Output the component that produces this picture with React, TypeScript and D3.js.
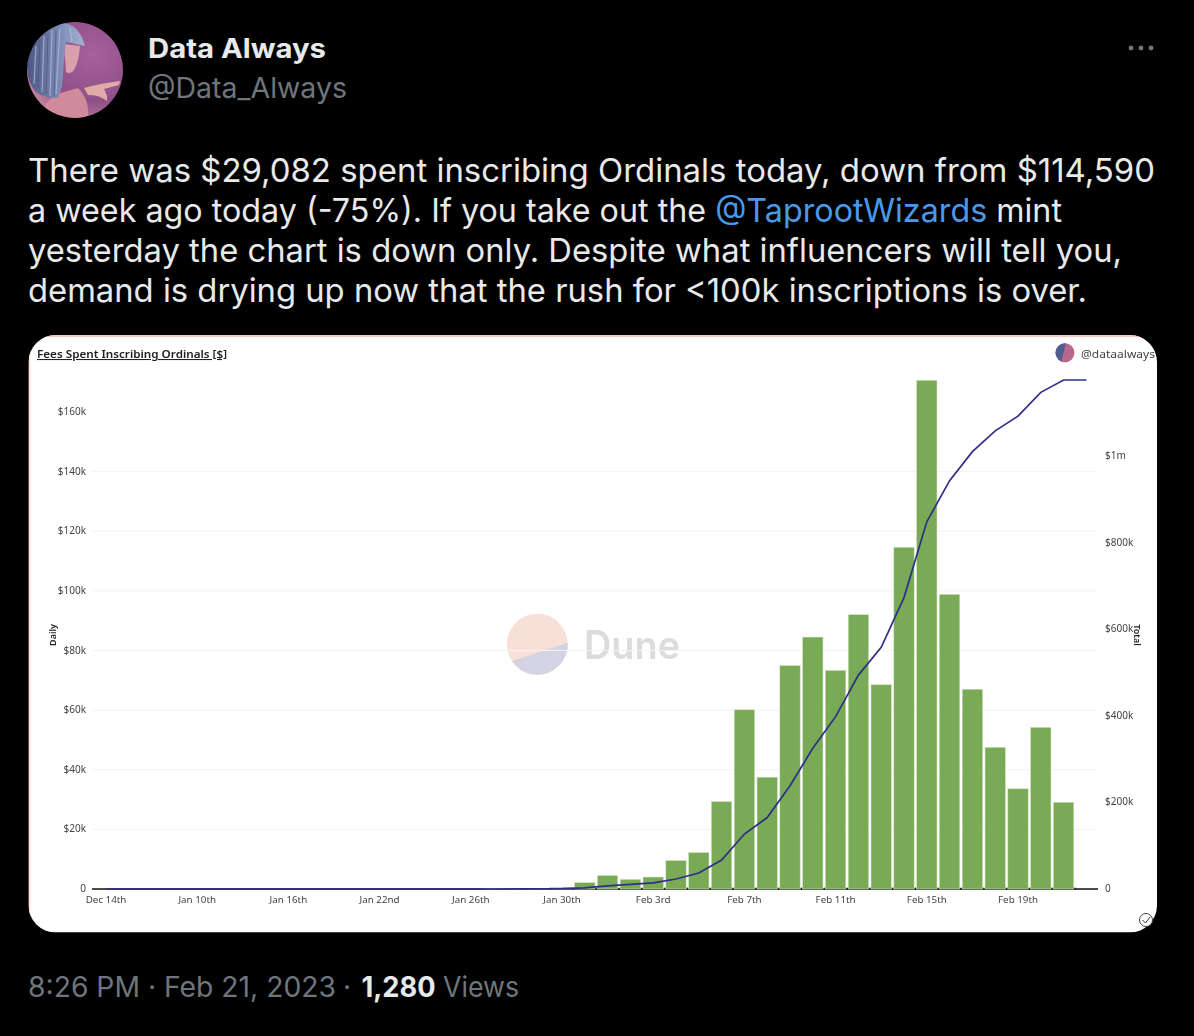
import React, { useEffect, useRef } from "react";
import * as d3 from "d3";

// x categories as shown by the chart (only every 4th one is labelled)
const categories = [
  "Dec 14th", "Dec 15th", "Dec 16th", "Dec 17th",
  "Jan 10th", "Jan 11th", "Jan 13th", "Jan 15th",
  "Jan 16th", "Jan 18th", "Jan 19th", "Jan 21st",
  "Jan 22nd", "Jan 23rd", "Jan 24th", "Jan 25th",
  "Jan 26th", "Jan 27th", "Jan 28th", "Jan 29th",
  "Jan 30th", "Jan 31st", "Feb 1st", "Feb 2nd",
  "Feb 3rd", "Feb 4th", "Feb 5th", "Feb 6th",
  "Feb 7th", "Feb 8th", "Feb 9th", "Feb 10th",
  "Feb 11th", "Feb 12th", "Feb 13th", "Feb 14th",
  "Feb 15th", "Feb 16th", "Feb 17th", "Feb 18th",
  "Feb 19th", "Feb 20th", "Feb 21st", "Feb 22nd",
];

// daily fees, $
const daily = [
  0, 0, 0, 0, 0, 0, 0, 0, 0, 0, 0, 0, 0, 0, 0, 0, 0, 20, 60, 120,
  500, 2100, 4500, 3200, 4000, 9500, 12200, 29300, 60100, 37500, 74900, 84500,
  73300, 92000, 68500, 114590, 170600, 98800, 67000, 47500, 33600, 54200, 29082, 0,
];

// running total, $
const total = [
  0, 0, 0, 0, 0, 0, 0, 0, 0, 0, 0, 0, 0, 0, 0, 0, 0, 20, 80, 200,
  700, 2800, 7300, 10500, 14000, 23000, 37000, 67000, 127000, 165000, 238600, 325000,
  398000, 494000, 558000, 673000, 848000, 943000, 1010000, 1058000, 1092000, 1147000, 1175500, 1175500,
];

const leftTicks = [0, 20000, 40000, 60000, 80000, 100000, 120000, 140000, 160000];
const rightTicks = [0, 200000, 400000, 600000, 800000, 1000000];

const chartFont = "'Noto Sans', sans-serif";
const tweetFont = "Inter, 'Noto Sans', sans-serif";

const kLabel = (d: number) => (d === 0 ? "0" : `$${d / 1000}k`);
const mLabel = (d: number) =>
  d === 0 ? "0" : d >= 1000000 ? `$${d / 1000000}m` : `$${d / 1000}k`;

export default function App() {
  const chartRef = useRef<SVGGElement>(null);

  useEffect(() => {
    const g = d3.select(chartRef.current);
    g.selectAll("*").remove();

    const x = d3.scaleBand<string>().domain(categories).range([94.6, 1097.8]).paddingInner(0.11).paddingOuter(0.055);
    const yLeft = d3.scaleLinear().domain([0, 160000]).range([889, 412]);
    const yRight = d3.scaleLinear().domain([0, 1000000]).range([889, 456]);
    const center = (i: number) => (x(categories[i]) ?? 0) + x.bandwidth() / 2;

    // grid
    g.append("g")
      .selectAll("line")
      .data(leftTicks.filter((d) => d > 0 && d < 160000))
      .join("line")
      .attr("x1", 92)
      .attr("x2", 1098)
      .attr("y1", (d) => yLeft(d))
      .attr("y2", (d) => yLeft(d))
      .attr("stroke", "#f3f3f3")
      .attr("stroke-width", 1);

    // left axis
    const leftAxis = g
      .append("g")
      .attr("transform", "translate(92,0)")
      .call(d3.axisLeft(yLeft).tickValues(leftTicks).tickFormat((d) => kLabel(+d)).tickSize(0).tickPadding(6));
    leftAxis.select(".domain").remove();
    leftAxis.selectAll("text").attr("font-family", chartFont).attr("font-size", 10).attr("fill", "#444").attr("dy", "0.25em");

    // right axis
    const rightAxis = g
      .append("g")
      .attr("transform", "translate(1098,0)")
      .call(d3.axisRight(yRight).tickValues(rightTicks).tickFormat((d) => mLabel(+d)).tickSize(0).tickPadding(7));
    rightAxis.select(".domain").remove();
    rightAxis.selectAll("text").attr("font-family", chartFont).attr("font-size", 10).attr("fill", "#444").attr("dy", "0.25em");

    // bottom axis, labels on every 4th category
    const bottomAxis = g
      .append("g")
      .attr("transform", "translate(0,889)")
      .call(d3.axisBottom(x).tickValues(categories.filter((_, i) => i % 4 === 0 && i < 43)).tickSize(0).tickPadding(6));
    bottomAxis.select(".domain").remove();
    bottomAxis.selectAll("text").attr("font-family", chartFont).attr("font-size", 9.8).attr("fill", "#444").attr("dy", "0.85em");

    // baseline and small band ticks
    g.append("line").attr("x1", 92).attr("x2", 1098).attr("y1", 889).attr("y2", 889).attr("stroke", "#111").attr("stroke-width", 1.7);
    g.append("g")
      .selectAll("line")
      .data(categories.slice(20))
      .join("line")
      .attr("x1", (d) => (x(d) ?? 0) - 1.2)
      .attr("x2", (d) => (x(d) ?? 0) - 1.2)
      .attr("y1", 887.5)
      .attr("y2", 890)
      .attr("stroke", "#222");

    // bars
    g.append("g")
      .selectAll("rect")
      .data(daily)
      .join("rect")
      .attr("x", (_, i) => x(categories[i]) ?? 0)
      .attr("width", x.bandwidth())
      .attr("y", (d) => yLeft(d))
      .attr("height", (d) => yLeft(0) - yLeft(d))
      .attr("fill", "#79aa56")
      .attr("stroke", "#c9dfba")
      .attr("stroke-width", 0.5);

    // running total line
    const line = d3
      .line<number>()
      .x((_, i) => center(i))
      .y((d) => yRight(d));
    g.append("path")
      .datum(total)
      .attr("d", line)
      .attr("fill", "none")
      .attr("stroke", "#2f2f86")
      .attr("stroke-width", 1.7);

    // axis names
    g.append("text")
      .attr("transform", "translate(56,635) rotate(-90)")
      .attr("text-anchor", "middle")
      .attr("font-family", chartFont)
      .attr("font-size", 9)
      .attr("font-weight", 600)
      .attr("fill", "#222")
      .text("Daily");
    g.append("text")
      .attr("transform", "translate(1134,635) rotate(90)")
      .attr("text-anchor", "middle")
      .attr("font-family", chartFont)
      .attr("font-size", 9)
      .attr("font-weight", 600)
      .attr("fill", "#222")
      .text("Total");
  }, []);

  return (
    <svg width={1194} height={1036} style={{ position: "absolute", left: 0, top: 0, background: "#000" }}>
      <defs>
        <clipPath id="avatar"><circle cx={75} cy={70} r={48} /></clipPath>
        <clipPath id="card"><rect x={28.5} y={335} width={1128.5} height={597.5} rx={27} /></clipPath>
        <clipPath id="mini"><circle cx={1065} cy={352.7} r={9.5} /></clipPath>
        <clipPath id="dune"><circle cx={537.3} cy={644.3} r={30.5} /></clipPath>
        <radialGradient id="avatarBg" cx="0.7" cy="0.35" r="0.8">
          <stop offset="0" stopColor="#a8609a" />
          <stop offset="0.6" stopColor="#8f5088" />
          <stop offset="1" stopColor="#c98aa0" />
        </radialGradient>
        <linearGradient id="hair" x1="0" x2="1" y1="0" y2="0">
          <stop offset="0" stopColor="#4c5680" />
          <stop offset="0.6" stopColor="#7f8fb8" />
          <stop offset="1" stopColor="#a4b2d2" />
        </linearGradient>
        <filter id="soft" x="-2%" y="-2%" width="104%" height="104%">
          <feGaussianBlur stdDeviation="0.5" />
        </filter>
        <filter id="avatarSoft" x="-5%" y="-5%" width="110%" height="110%">
          <feGaussianBlur stdDeviation="0.7" />
        </filter>
      </defs>

      {/* avatar */}
      <g clipPath="url(#avatar)">
        <g filter="url(#avatarSoft)">
          <rect x={27} y={22} width={96} height={96} fill="url(#avatarBg)" />
          <path d="M40 118 Q46 96 64 92 L78 88 Q90 100 88 118 Z" fill="#cf8a9c" />
          <path d="M64 44 L80 46 Q79 60 75 68 Q72 75 66 72 Z" fill="#d8a0aa" />
          <path d="M84 88 Q98 84 120 81 L119 85 L104 89 Q108 96 107 101 Q98 94 88 95 Z" fill="#e0aba6" />
          <path d="M27 66 Q28 32 56 23 Q78 20 85 46 L66 42 L64 60 L62 86 L58 98 Q44 98 36 92 Q27 82 27 66 Z" fill="url(#hair)" />
          <path d="M36 46 L34 84 M44 36 L42 92 M52 30 L50 96 M60 28 L56 94 M70 28 L72 42" stroke="#b7c3e0" strokeWidth={1.2} fill="none" opacity={0.7} />
          <path d="M40 40 L38 88 M48 34 L46 94 M56 30 L54 96" stroke="#3f4870" strokeWidth={1} fill="none" opacity={0.5} />
        </g>
      </g>

      <text x={148} y={58} fontFamily={tweetFont} fontSize={27} fontWeight={700} fill="#e7e9ea" textLength={178} lengthAdjust="spacingAndGlyphs">Data Always</text>
      <text x={148} y={98} fontFamily={tweetFont} fontSize={28.5} fill="#6e767d" textLength={199} lengthAdjust="spacingAndGlyphs">@Data_Always</text>
      {[1131, 1141, 1151].map((cx) => (
        <circle key={cx} cx={cx} cy={48} r={2.4} fill="#6e767d" />
      ))}

      {/* tweet text */}
      <g fontFamily={tweetFont} fontSize={33} fill="#e7e9ea">
        <text x={28} y={181.7} textLength={1127} lengthAdjust="spacingAndGlyphs">There was $29,082 spent inscribing Ordinals today, down from $114,590</text>
        <text x={28} y={221.7} textLength={1034} lengthAdjust="spacingAndGlyphs">a week ago today (-75%). If you take out the <tspan fill="#4a99e9">@TaprootWizards</tspan> mint</text>
        <text x={28} y={261.7} textLength={1094} lengthAdjust="spacingAndGlyphs">yesterday the chart is down only. Despite what influencers will tell you,</text>
        <text x={28} y={301.7} textLength={1059} lengthAdjust="spacingAndGlyphs">demand is drying up now that the rush for &lt;100k inscriptions is over.</text>
      </g>

      {/* screenshot card */}
      <g clipPath="url(#card)">
        <rect x={28.5} y={335} width={1128.5} height={597.5} fill="#fff" />
        <line x1={28} x2={1158} y1={336} y2={336} stroke="#f3b9ae" strokeWidth={1.5} />
        <line x1={29.5} x2={29.5} y1={336} y2={932} stroke="#fbdcd6" strokeWidth={1.5} />
        <g filter="url(#soft)">
          {/* Dune watermark */}
          <g clipPath="url(#dune)">
            <rect x={500} y={610} width={75} height={70} fill="#f8dfd8" />
            <path d="M500 665 L575 640.5 L575 680 L500 680 Z" fill="#d3d3e3" />
          </g>
          <text x={584} y={659} fontFamily="Inter, Roboto, sans-serif" fontSize={39} fontWeight={600} fill="#dcdcdc" textLength={96} lengthAdjust="spacingAndGlyphs">Dune</text>

          <g ref={chartRef} />

          <text x={37} y={358} fontFamily={chartFont} fontSize={10.5} fontWeight={600} fill="#222" textDecoration="underline" textLength={190} lengthAdjust="spacingAndGlyphs">Fees Spent Inscribing Ordinals [$]</text>
          <g clipPath="url(#mini)">
            <rect x={1055} y={343} width={20} height={20} fill="#b8688f" />
            <path d="M1055 343 H1066 L1061 363 H1055 Z" fill="#4f5d92" />
          </g>
          <text x={1081} y={357.5} fontFamily={chartFont} fontSize={10} fill="#444" textLength={74} lengthAdjust="spacingAndGlyphs">@dataalways</text>
        </g>
      </g>

      {/* verified badge in the corner */}
      <circle cx={1146} cy={920} r={6.5} fill="#fff" stroke="#444" strokeWidth={1} />
      <path d="M1142.5 920 L1145.5 923 L1150 917" fill="none" stroke="#333" strokeWidth={1} />

      {/* footer */}
      <g fontFamily={tweetFont} fontSize={28} fill="#6e767d">
        <text x={28} y={996.7} textLength={308} lengthAdjust="spacingAndGlyphs">8:26 PM · Feb 21, 2023</text>
        <text x={343} y={996.7}>·</text>
        <text x={361.5} y={996.7} fontWeight={700} fill="#e7e9ea" textLength={74} lengthAdjust="spacingAndGlyphs">1,280</text>
        <text x={443} y={996.7} textLength={76} lengthAdjust="spacingAndGlyphs">Views</text>
      </g>
    </svg>
  );
}
